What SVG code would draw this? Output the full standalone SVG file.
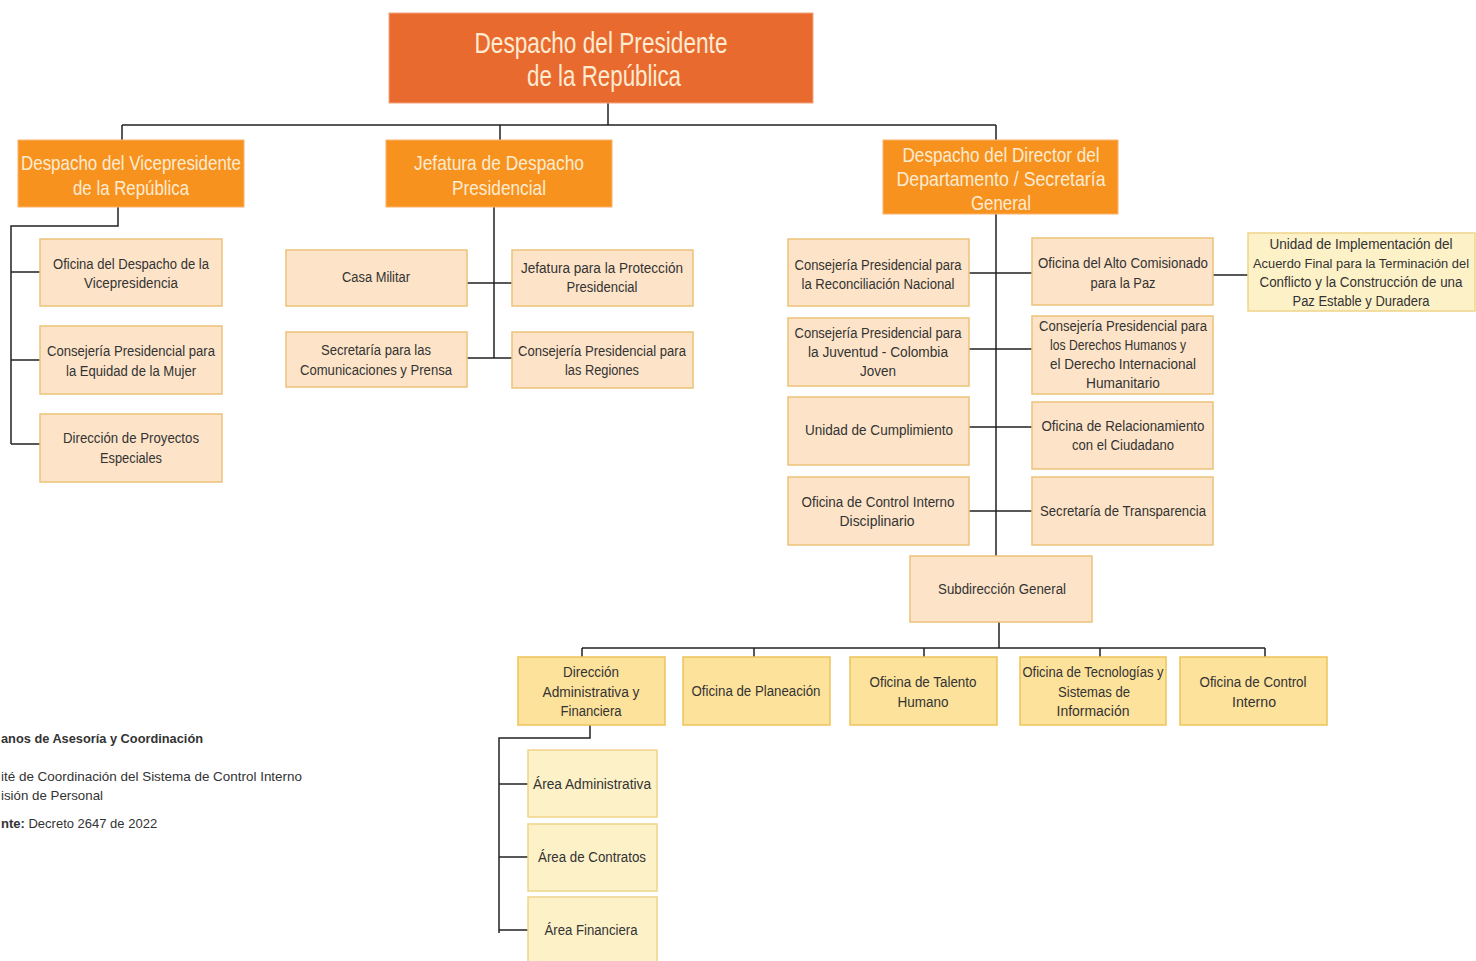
<svg xmlns="http://www.w3.org/2000/svg" width="1476" height="961" viewBox="0 0 1476 961">
<style>
.bg{fill:#ffffff}
.top{fill:#E96A2F;stroke:#F2A57E;stroke-width:1}
.org{fill:#F7921E;stroke:#F9B46A;stroke-width:1}
.pch{fill:#FDE4C8;stroke:#EDC27A;stroke-width:1.5}
.yel{fill:#FDE29B;stroke:#EEC35A;stroke-width:1.5}
.lyl{fill:#FDF1C8;stroke:#EFD48A;stroke-width:1.5}
text{font-family:"Liberation Sans","DejaVu Sans",sans-serif}
.h1{font-size:29px;fill:#FDEBD2;text-anchor:middle}
.h2{font-size:21px;fill:#FDEBD2;text-anchor:middle}
.t{font-size:14px;fill:#333333;text-anchor:middle}
.s{font-size:12.5px}
.lg{font-size:13px;fill:#333333}
.b{font-weight:bold}
.c{fill:none;stroke:#222222;stroke-width:1.5}
</style>
<rect class="bg" x="0" y="0" width="1476" height="961"/>
<g id="connectors">
<path class="c" d="M608,103 V125 M122,125 H996 M122,125 V140 M500,125 V140 M996,125 V140"/>
<path class="c" d="M118,207 V226 H11 V444 M11,272 H40 M11,360 H40 M11,444 H40"/>
<path class="c" d="M494,207 V358 M467,283 H512 M467,358 H512"/>
<path class="c" d="M996,205 V556 M969,273 H1032 M969,349 H1032 M969,427 H1032 M969,511 H1032 M1213,275 H1248"/>
<path class="c" d="M999,622 V648 M582,648 H1265 M582,648 V657 M754,648 V657 M924,648 V657 M1100,648 V657 M1265,648 V657"/>
<path class="c" d="M590,725 V738 H499 V933 M499,784 H528 M499,857 H528 M499,930 H528"/>
</g>
<g id="presidente">
<rect class="top" x="389" y="13" width="424" height="90"/>
<text class="h1" x="601" y="53" textLength="253" lengthAdjust="spacingAndGlyphs">Despacho del Presidente</text>
<text class="h1" x="604" y="86" textLength="154" lengthAdjust="spacingAndGlyphs">de la República</text>
</g>
<g id="vicepresidente">
<rect class="org" x="18" y="140" width="226" height="67"/>
<text class="h2" x="131" y="170" textLength="220" lengthAdjust="spacingAndGlyphs">Despacho del Vicepresidente</text>
<text class="h2" x="131" y="195" textLength="116" lengthAdjust="spacingAndGlyphs">de la República</text>
</g>
<g id="jefatura">
<rect class="org" x="386" y="140" width="226" height="67"/>
<text class="h2" x="499" y="170" textLength="170" lengthAdjust="spacingAndGlyphs">Jefatura de Despacho</text>
<text class="h2" x="499" y="195" textLength="94" lengthAdjust="spacingAndGlyphs">Presidencial</text>
</g>
<g id="director">
<rect class="org" x="883" y="140" width="235" height="74"/>
<text class="h2" x="1001" y="162" textLength="197" lengthAdjust="spacingAndGlyphs">Despacho del Director del</text>
<text class="h2" x="1001" y="186" textLength="209" lengthAdjust="spacingAndGlyphs">Departamento / Secretaría</text>
<text class="h2" x="1001" y="210" textLength="60" lengthAdjust="spacingAndGlyphs">General</text>
</g>
<g id="oficina-vice">
<rect class="pch" x="40" y="239" width="182" height="67"/>
<text class="t" x="131" y="269" textLength="156" lengthAdjust="spacingAndGlyphs">Oficina del Despacho de la</text>
<text class="t" x="131" y="288" textLength="94" lengthAdjust="spacingAndGlyphs">Vicepresidencia</text>
</g>
<g id="equidad-mujer">
<rect class="pch" x="40" y="326" width="182" height="68"/>
<text class="t" x="131" y="356" textLength="168" lengthAdjust="spacingAndGlyphs">Consejería Presidencial para</text>
<text class="t" x="131" y="376" textLength="130" lengthAdjust="spacingAndGlyphs">la Equidad de la Mujer</text>
</g>
<g id="proyectos-especiales">
<rect class="pch" x="40" y="414" width="182" height="68"/>
<text class="t" x="131" y="443" textLength="136" lengthAdjust="spacingAndGlyphs">Dirección de Proyectos</text>
<text class="t" x="131" y="463" textLength="62" lengthAdjust="spacingAndGlyphs">Especiales</text>
</g>
<g id="casa-militar">
<rect class="pch" x="286" y="250" width="181" height="56"/>
<text class="t" x="376" y="282" textLength="68" lengthAdjust="spacingAndGlyphs">Casa Militar</text>
</g>
<g id="proteccion">
<rect class="pch" x="512" y="250" width="181" height="56"/>
<text class="t" x="602" y="273" textLength="162" lengthAdjust="spacingAndGlyphs">Jefatura para la Protección</text>
<text class="t" x="602" y="292" textLength="71" lengthAdjust="spacingAndGlyphs">Presidencial</text>
</g>
<g id="comunicaciones">
<rect class="pch" x="286" y="332" width="181" height="55"/>
<text class="t" x="376" y="355" textLength="110" lengthAdjust="spacingAndGlyphs">Secretaría para las</text>
<text class="t" x="376" y="375" textLength="152" lengthAdjust="spacingAndGlyphs">Comunicaciones y Prensa</text>
</g>
<g id="regiones">
<rect class="pch" x="512" y="332" width="181" height="56"/>
<text class="t" x="602" y="356" textLength="168" lengthAdjust="spacingAndGlyphs">Consejería Presidencial para</text>
<text class="t" x="602" y="375" textLength="74" lengthAdjust="spacingAndGlyphs">las Regiones</text>
</g>
<g id="reconciliacion">
<rect class="pch" x="788" y="239" width="181" height="67"/>
<text class="t" x="878" y="270" textLength="167" lengthAdjust="spacingAndGlyphs">Consejería Presidencial para</text>
<text class="t" x="878" y="289" textLength="153" lengthAdjust="spacingAndGlyphs">la Reconciliación Nacional</text>
</g>
<g id="juventud">
<rect class="pch" x="788" y="318" width="181" height="68"/>
<text class="t" x="878" y="338" textLength="167" lengthAdjust="spacingAndGlyphs">Consejería Presidencial para</text>
<text class="t" x="878" y="357" textLength="140" lengthAdjust="spacingAndGlyphs">la Juventud - Colombia</text>
<text class="t" x="878" y="376" textLength="36" lengthAdjust="spacingAndGlyphs">Joven</text>
</g>
<g id="cumplimiento">
<rect class="pch" x="788" y="397" width="181" height="68"/>
<text class="t" x="879" y="435" textLength="148" lengthAdjust="spacingAndGlyphs">Unidad de Cumplimiento</text>
</g>
<g id="control-disciplinario">
<rect class="pch" x="788" y="477" width="181" height="68"/>
<text class="t" x="878" y="507" textLength="153" lengthAdjust="spacingAndGlyphs">Oficina de Control Interno</text>
<text class="t" x="877" y="526" textLength="75" lengthAdjust="spacingAndGlyphs">Disciplinario</text>
</g>
<g id="alto-comisionado">
<rect class="pch" x="1032" y="238" width="181" height="67"/>
<text class="t" x="1123" y="268" textLength="170" lengthAdjust="spacingAndGlyphs">Oficina del Alto Comisionado</text>
<text class="t" x="1123" y="288" textLength="65" lengthAdjust="spacingAndGlyphs">para la Paz</text>
</g>
<g id="derechos-humanos">
<rect class="pch" x="1032" y="316" width="181" height="78"/>
<text class="t" x="1123" y="331" textLength="168" lengthAdjust="spacingAndGlyphs">Consejería Presidencial para</text>
<text class="t" x="1118" y="350" textLength="136" lengthAdjust="spacingAndGlyphs">los Derechos Humanos y</text>
<text class="t" x="1123" y="369" textLength="146" lengthAdjust="spacingAndGlyphs">el Derecho Internacional</text>
<text class="t" x="1123" y="388" textLength="74" lengthAdjust="spacingAndGlyphs">Humanitario</text>
</g>
<g id="relacionamiento">
<rect class="pch" x="1032" y="402" width="181" height="67"/>
<text class="t" x="1123" y="431" textLength="163" lengthAdjust="spacingAndGlyphs">Oficina de Relacionamiento</text>
<text class="t" x="1123" y="450" textLength="102" lengthAdjust="spacingAndGlyphs">con el Ciudadano</text>
</g>
<g id="transparencia">
<rect class="pch" x="1032" y="477" width="181" height="68"/>
<text class="t" x="1123" y="516" textLength="166" lengthAdjust="spacingAndGlyphs">Secretaría de Transparencia</text>
</g>
<g id="implementacion-acuerdo">
<rect class="lyl" x="1248" y="233" width="227" height="78"/>
<text class="t" x="1361" y="249" textLength="183" lengthAdjust="spacingAndGlyphs">Unidad de Implementación del</text>
<text class="t s" x="1361" y="268" textLength="216" lengthAdjust="spacingAndGlyphs">Acuerdo Final para la Terminación del</text>
<text class="t" x="1361" y="287" textLength="203" lengthAdjust="spacingAndGlyphs">Conflicto y la Construcción de una</text>
<text class="t" x="1361" y="306" textLength="137" lengthAdjust="spacingAndGlyphs">Paz Estable y Duradera</text>
</g>
<g id="subdireccion">
<rect class="pch" x="910" y="556" width="182" height="66"/>
<text class="t" x="1002" y="594" textLength="128" lengthAdjust="spacingAndGlyphs">Subdirección General</text>
</g>
<g id="dir-administrativa">
<rect class="yel" x="518" y="657" width="147" height="68"/>
<text class="t" x="591" y="677" textLength="56" lengthAdjust="spacingAndGlyphs">Dirección</text>
<text class="t" x="591" y="697" textLength="97" lengthAdjust="spacingAndGlyphs">Administrativa y</text>
<text class="t" x="591" y="716" textLength="61" lengthAdjust="spacingAndGlyphs">Financiera</text>
</g>
<g id="planeacion">
<rect class="yel" x="683" y="657" width="147" height="68"/>
<text class="t" x="756" y="696" textLength="129" lengthAdjust="spacingAndGlyphs">Oficina de Planeación</text>
</g>
<g id="talento-humano">
<rect class="yel" x="850" y="657" width="147" height="68"/>
<text class="t" x="923" y="687" textLength="107" lengthAdjust="spacingAndGlyphs">Oficina de Talento</text>
<text class="t" x="923" y="707" textLength="51" lengthAdjust="spacingAndGlyphs">Humano</text>
</g>
<g id="tecnologias">
<rect class="yel" x="1020" y="657" width="146" height="68"/>
<text class="t" x="1093" y="677" textLength="141" lengthAdjust="spacingAndGlyphs">Oficina de Tecnologías y</text>
<text class="t" x="1094" y="697" textLength="72" lengthAdjust="spacingAndGlyphs">Sistemas de</text>
<text class="t" x="1093" y="716" textLength="73" lengthAdjust="spacingAndGlyphs">Información</text>
</g>
<g id="control-interno">
<rect class="yel" x="1180" y="657" width="147" height="68"/>
<text class="t" x="1253" y="687" textLength="107" lengthAdjust="spacingAndGlyphs">Oficina de Control</text>
<text class="t" x="1254" y="707" textLength="44" lengthAdjust="spacingAndGlyphs">Interno</text>
</g>
<g id="area-administrativa">
<rect class="lyl" x="528" y="750" width="129" height="67"/>
<text class="t" x="592" y="789" textLength="118" lengthAdjust="spacingAndGlyphs">Área Administrativa</text>
</g>
<g id="area-contratos">
<rect class="lyl" x="528" y="824" width="129" height="67"/>
<text class="t" x="592" y="862" textLength="108" lengthAdjust="spacingAndGlyphs">Área de Contratos</text>
</g>
<g id="area-financiera">
<rect class="lyl" x="528" y="897" width="129" height="70"/>
<text class="t" x="591" y="935" textLength="93" lengthAdjust="spacingAndGlyphs">Área Financiera</text>
</g>
<g id="legend">
<text class="lg b" x="1" y="743" textLength="202" lengthAdjust="spacingAndGlyphs">anos de Asesoría y Coordinación</text>
<text class="lg" x="1" y="781" textLength="301" lengthAdjust="spacingAndGlyphs">ité de Coordinación del Sistema de Control Interno</text>
<text class="lg" x="1" y="800" textLength="102" lengthAdjust="spacingAndGlyphs">isión de Personal</text>
<text class="lg" x="1" y="828"><tspan class="b">nte:</tspan> Decreto 2647 de 2022</text>
</g>
</svg>
